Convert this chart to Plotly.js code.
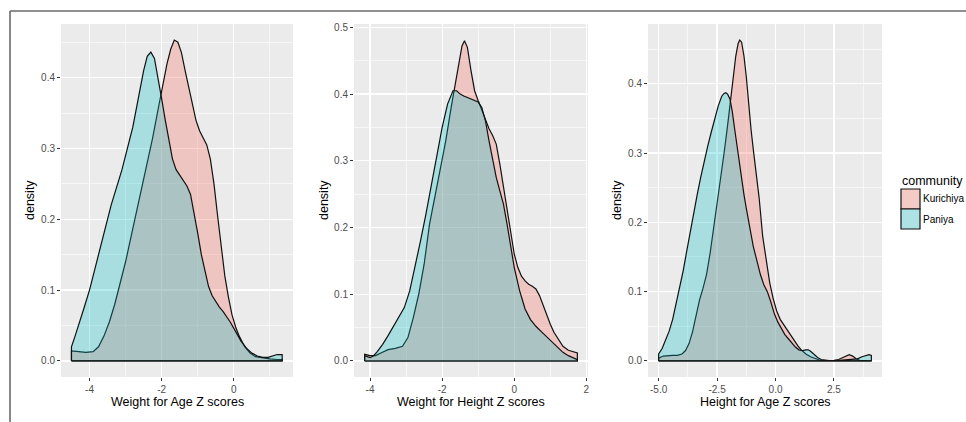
<!DOCTYPE html>
<html>
<head>
<meta charset="utf-8">
<script src="https://cdn.plot.ly/plotly-3.0.1.min.js"></script>
<style>
  html, body { margin: 0; padding: 0; background: #ffffff; }
  #chart { width: 966px; height: 422px; }
</style>
</head>
<body>
<div id="chart"></div>
<script>
// ---------- DATA ----------
const groups = ["Kurichiya", "Paniya"];
const panelTitles = ["Weight for Age Z scores", "Weight for Height Z scores", "Height for Age Z scores"];
const yTitle = "density";
const legendTitle = "community";

// Panel 1: Weight for Age
const wfaKurX = [-4.5,-4.3,-4.1,-3.9,-3.75,-3.6,-3.45,-3.3,-3.15,-3.0,-2.85,-2.7,-2.55,-2.4,-2.25,-2.1,-1.95,-1.85,-1.75,-1.65,-1.55,-1.45,-1.35,-1.25,-1.15,-1.05,-0.95,-0.85,-0.75,-0.65,-0.55,-0.45,-0.35,-0.25,-0.15,-0.05,0.05,0.15,0.3,0.45,0.6,0.8,1.0,1.2,1.34];
const wfaKurY = [0.014,0.013,0.012,0.013,0.02,0.035,0.055,0.08,0.11,0.14,0.175,0.21,0.245,0.28,0.315,0.355,0.395,0.42,0.44,0.453,0.45,0.435,0.41,0.385,0.36,0.34,0.325,0.315,0.305,0.285,0.25,0.205,0.16,0.12,0.09,0.065,0.048,0.035,0.02,0.011,0.006,0.004,0.003,0.002,0.002];
const wfaPanX = [-4.5,-4.4,-4.3,-4.15,-4.0,-3.85,-3.7,-3.55,-3.4,-3.25,-3.1,-2.95,-2.8,-2.65,-2.5,-2.4,-2.3,-2.2,-2.1,-2.0,-1.9,-1.8,-1.7,-1.6,-1.5,-1.4,-1.3,-1.2,-1.1,-1.0,-0.9,-0.8,-0.7,-0.6,-0.5,-0.4,-0.3,-0.2,-0.1,0.0,0.1,0.2,0.35,0.5,0.65,0.8,0.95,1.1,1.2,1.34];
const wfaPanY = [0.02,0.035,0.05,0.075,0.1,0.13,0.16,0.19,0.22,0.245,0.27,0.3,0.33,0.37,0.41,0.43,0.436,0.427,0.4,0.37,0.34,0.31,0.285,0.27,0.262,0.255,0.247,0.235,0.21,0.18,0.15,0.125,0.105,0.092,0.083,0.076,0.07,0.063,0.055,0.046,0.037,0.028,0.018,0.011,0.007,0.005,0.005,0.007,0.009,0.009];

// Panel 2: Weight for Height
const whzKurX = [-4.15,-4.0,-3.85,-3.7,-3.5,-3.3,-3.1,-2.95,-2.8,-2.65,-2.5,-2.35,-2.2,-2.05,-1.9,-1.75,-1.65,-1.55,-1.45,-1.38,-1.3,-1.2,-1.1,-1.0,-0.9,-0.8,-0.7,-0.6,-0.5,-0.4,-0.3,-0.2,-0.1,0.0,0.1,0.2,0.3,0.4,0.5,0.6,0.7,0.8,0.9,1.0,1.1,1.2,1.35,1.5,1.65,1.75];
const whzKurY = [0.01,0.008,0.008,0.012,0.017,0.019,0.022,0.035,0.065,0.1,0.145,0.205,0.245,0.285,0.33,0.38,0.41,0.445,0.472,0.48,0.47,0.435,0.405,0.39,0.375,0.36,0.348,0.338,0.325,0.295,0.26,0.225,0.19,0.16,0.14,0.127,0.12,0.115,0.112,0.108,0.098,0.083,0.068,0.055,0.043,0.034,0.022,0.016,0.013,0.012];
const whzPanX = [-4.15,-4.0,-3.9,-3.8,-3.65,-3.5,-3.35,-3.2,-3.05,-2.9,-2.75,-2.6,-2.45,-2.3,-2.15,-2.0,-1.85,-1.7,-1.6,-1.5,-1.4,-1.3,-1.2,-1.1,-1.0,-0.9,-0.8,-0.7,-0.6,-0.5,-0.4,-0.3,-0.2,-0.1,0.0,0.15,0.3,0.45,0.6,0.75,0.9,1.05,1.2,1.35,1.5,1.65,1.75];
const whzPanY = [0.008,0.005,0.008,0.014,0.025,0.038,0.052,0.065,0.08,0.105,0.14,0.18,0.22,0.265,0.31,0.35,0.385,0.405,0.405,0.4,0.397,0.395,0.393,0.39,0.388,0.38,0.36,0.33,0.3,0.275,0.255,0.235,0.205,0.17,0.14,0.105,0.078,0.062,0.052,0.044,0.036,0.028,0.02,0.013,0.008,0.004,0.002];

// Panel 3: Height for Age
const hazKurX = [-5.0,-4.8,-4.6,-4.4,-4.2,-4.0,-3.85,-3.7,-3.55,-3.4,-3.25,-3.1,-2.95,-2.8,-2.65,-2.5,-2.35,-2.2,-2.05,-1.9,-1.8,-1.7,-1.6,-1.53,-1.45,-1.35,-1.25,-1.15,-1.05,-0.95,-0.85,-0.7,-0.55,-0.4,-0.25,-0.1,0.05,0.2,0.35,0.5,0.65,0.8,0.95,1.1,1.3,1.5,1.7,1.9,2.1,2.3,2.5,2.7,2.9,3.05,3.15,3.3,3.45,3.6,3.8,4.0,4.1];
const hazKurY = [0.004,0.007,0.008,0.008,0.008,0.01,0.015,0.025,0.042,0.065,0.088,0.105,0.125,0.155,0.19,0.225,0.26,0.3,0.34,0.385,0.415,0.44,0.458,0.463,0.46,0.44,0.41,0.37,0.335,0.305,0.275,0.235,0.18,0.145,0.113,0.09,0.072,0.06,0.052,0.045,0.037,0.028,0.022,0.016,0.01,0.006,0.003,0.001,0.0005,0.0005,0.001,0.002,0.005,0.008,0.009,0.007,0.003,0.001,0.0005,0.0005,0.0005];
const hazPanX = [-5.0,-4.85,-4.7,-4.55,-4.4,-4.25,-4.1,-3.95,-3.8,-3.65,-3.5,-3.35,-3.2,-3.05,-2.9,-2.75,-2.6,-2.45,-2.3,-2.2,-2.13,-2.05,-1.95,-1.85,-1.75,-1.65,-1.55,-1.45,-1.35,-1.25,-1.1,-0.95,-0.8,-0.65,-0.5,-0.35,-0.2,-0.05,0.1,0.25,0.4,0.55,0.7,0.85,1.0,1.15,1.3,1.4,1.5,1.65,1.8,1.95,2.1,2.3,2.6,2.9,3.2,3.5,3.7,3.85,4.0,4.1];
const hazPanY = [0.01,0.018,0.03,0.043,0.06,0.082,0.105,0.13,0.158,0.187,0.215,0.24,0.265,0.29,0.31,0.33,0.35,0.368,0.382,0.386,0.387,0.385,0.378,0.36,0.335,0.31,0.285,0.26,0.24,0.22,0.19,0.165,0.145,0.125,0.11,0.1,0.085,0.068,0.056,0.046,0.038,0.032,0.026,0.02,0.016,0.015,0.016,0.016,0.014,0.009,0.005,0.002,0.001,0.0005,0.0005,0.001,0.002,0.003,0.006,0.008,0.009,0.008];

// Tick labels
const xTicks1 = [-4, -2, 0];        const xTickText1 = ["-4", "-2", "0"];
const xTicks2 = [-4, -2, 0, 2];     const xTickText2 = ["-4", "-2", "0", "2"];
const xTicks3 = [-5, -2.5, 0, 2.5]; const xTickText3 = ["-5.0", "-2.5", "0.0", "2.5"];
const yTicks13 = [0, 0.1, 0.2, 0.3, 0.4];      const yTickText13 = ["0.0", "0.1", "0.2", "0.3", "0.4"];
const yTicks2 = [0, 0.1, 0.2, 0.3, 0.4, 0.5];  const yTickText2 = ["0.0", "0.1", "0.2", "0.3", "0.4", "0.5"];

// ---------- STYLE ----------
const W = 966, H = 422;
const FONT = "Liberation Sans, Arial, Helvetica, sans-serif";
const fills = ["rgba(248,118,109,0.32)", "rgba(0,191,196,0.28)"];
const px = v => v / W;
const py = v => 1 - v / H;

function closedPolygon(xs, ys) {
  const n = xs.length;
  return { x: [xs[0]].concat(xs, [xs[n - 1], xs[0]]), y: [0].concat(ys, [0, 0]) };
}

const series = [
  [[wfaKurX, wfaKurY], [wfaPanX, wfaPanY]],
  [[whzKurX, whzKurY], [whzPanX, whzPanY]],
  [[hazKurX, hazKurY], [hazPanX, hazPanY]]
];

const traces = [];
series.forEach((panel, pi) => {
  panel.forEach((s, gi) => {
    const poly = closedPolygon(s[0], s[1]);
    traces.push({
      type: "scatter", mode: "lines",
      x: poly.x, y: poly.y,
      xaxis: pi === 0 ? "x" : "x" + (pi + 1),
      yaxis: pi === 0 ? "y" : "y" + (pi + 1),
      fill: "toself", fillcolor: fills[gi],
      line: { color: "#111111", width: 1.2 },
      name: groups[gi], showlegend: false, hoverinfo: "skip"
    });
  });
});

const yDomain = [py(377), py(24)];
function xAxis(dom, range, tv, tt, minor0, minorStep) {
  return {
    domain: dom, range: range, tickmode: "array", tickvals: tv, ticktext: tt,
    showgrid: true, gridcolor: "#ffffff", gridwidth: 1.3, zeroline: false, showline: false,
    ticks: "outside", ticklen: 3, tickwidth: 1, tickcolor: "#333333",
    tickfont: { family: FONT, size: 10, color: "#4D4D4D" },
    minor: { tickmode: "linear", tick0: minor0, dtick: minorStep, showgrid: true, gridcolor: "#ffffff", gridwidth: 0.6, ticks: "" },
    fixedrange: true
  };
}
function yAxis(anchor, range, tv, tt) {
  return {
    domain: yDomain, anchor: anchor, range: range, tickmode: "array", tickvals: tv, ticktext: tt,
    showgrid: true, gridcolor: "#ffffff", gridwidth: 1.3, zeroline: false, showline: false,
    ticks: "outside", ticklen: 3, tickwidth: 1, tickcolor: "#333333",
    tickfont: { family: FONT, size: 10, color: "#4D4D4D" },
    minor: { tickmode: "linear", tick0: 0.05, dtick: 0.1, showgrid: true, gridcolor: "#ffffff", gridwidth: 0.6, ticks: "" },
    fixedrange: true
  };
}

const annotations = [];
const titleCenters = [177, 471, 765];
panelTitles.forEach((t, i) => {
  annotations.push({ xref: "paper", yref: "paper", x: px(titleCenters[i]), y: py(402), text: t, showarrow: false,
    xanchor: "center", yanchor: "middle", font: { family: FONT, size: 12.5, color: "#000000" } });
});
[30, 324, 617].forEach(xc => {
  annotations.push({ xref: "paper", yref: "paper", x: px(xc), y: py(200), text: yTitle, showarrow: false, textangle: -90,
    xanchor: "center", yanchor: "middle", font: { family: FONT, size: 12.5, color: "#000000" } });
});
annotations.push({ xref: "paper", yref: "paper", x: px(900), y: py(181), text: legendTitle, showarrow: false,
  xanchor: "left", yanchor: "middle", font: { family: FONT, size: 12.5, color: "#000000" } });
const keyTop = [189, 209];
groups.forEach((g, i) => {
  annotations.push({ xref: "paper", yref: "paper", x: px(921), y: py(keyTop[i] + 10), text: g, showarrow: false,
    xanchor: "left", yanchor: "middle", font: { family: FONT, size: 10, color: "#000000" } });
});

const shapes = [];
groups.forEach((g, i) => {
  shapes.push({ type: "rect", xref: "paper", yref: "paper", x0: px(901), x1: px(920), y0: py(keyTop[i] + 20), y1: py(keyTop[i]),
    fillcolor: "#F2F2F2", line: { width: 0 } });
  shapes.push({ type: "rect", xref: "paper", yref: "paper", x0: px(901), x1: px(920), y0: py(keyTop[i] + 20), y1: py(keyTop[i]),
    fillcolor: fills[i], line: { color: "#111111", width: 1.2 } });
});
// outer figure frame (top and left edges)
shapes.push({ type: "line", xref: "paper", yref: "paper", x0: px(10), x1: 1, y0: py(11), y1: py(11), line: { color: "#6b6b6b", width: 1.6 } });
shapes.push({ type: "line", xref: "paper", yref: "paper", x0: px(10), x1: px(10), y0: py(11), y1: 0, line: { color: "#6b6b6b", width: 1.6 } });

const layout = {
  width: W, height: H, margin: { l: 0, r: 0, t: 0, b: 0, pad: 0 },
  paper_bgcolor: "#ffffff", plot_bgcolor: "#EBEBEB",
  showlegend: false, hovermode: false,
  font: { family: FONT },
  xaxis:  xAxis([px(61), px(293)],  [-4.79, 1.64],   xTicks1, xTickText1, -5, 2),
  xaxis2: xAxis([px(354), px(588)], [-4.445, 2.045], xTicks2, xTickText2, -5, 2),
  xaxis3: xAxis([px(648), px(882)], [-5.455, 4.555], xTicks3, xTickText3, -6.25, 2.5),
  yaxis:  yAxis("x",  [-0.0227, 0.4757], yTicks13, yTickText13),
  yaxis2: yAxis("x2", [-0.024, 0.505],   yTicks2,  yTickText2),
  yaxis3: yAxis("x3", [-0.0232, 0.4862], yTicks13, yTickText13),
  annotations: annotations,
  shapes: shapes
};
layout.xaxis.anchor = "y";
layout.xaxis2.anchor = "y2";
layout.xaxis3.anchor = "y3";

Plotly.newPlot("chart", traces, layout, { displayModeBar: false, staticPlot: true });
</script>
</body>
</html>
